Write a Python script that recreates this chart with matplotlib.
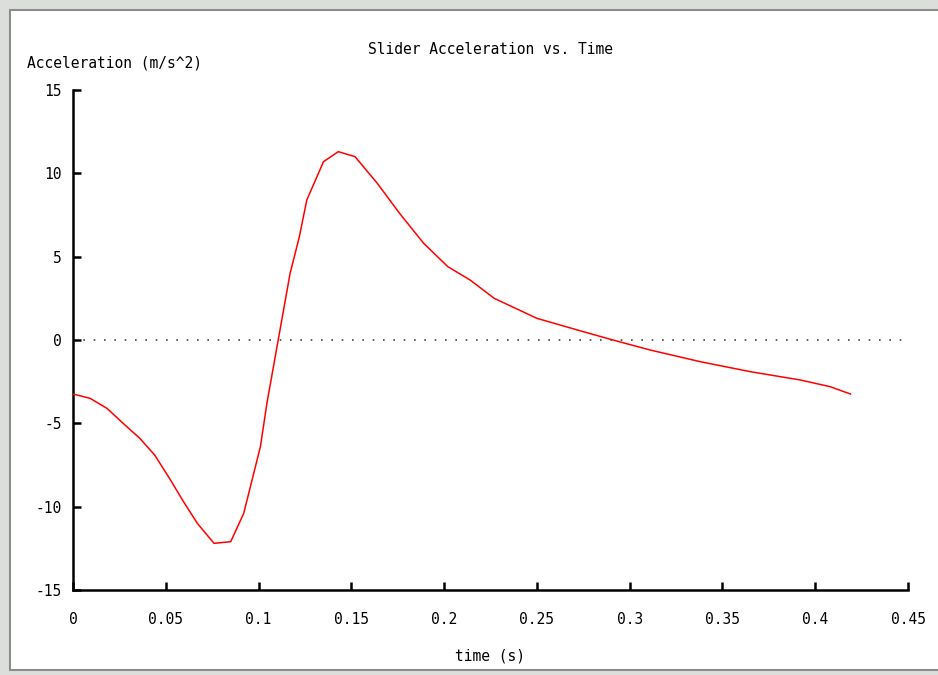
import matplotlib.pyplot as plt
from matplotlib.patches import Rectangle

# values
time_s = [0.0, 0.0092, 0.0183, 0.028, 0.036, 0.044, 0.052, 0.059, 0.067, 0.076,
          0.085, 0.092, 0.0965, 0.101, 0.1045, 0.117, 0.122, 0.126, 0.135,
          0.143, 0.152, 0.164, 0.176, 0.189, 0.202, 0.214, 0.227, 0.25, 0.275,
          0.291, 0.311, 0.338, 0.365, 0.392, 0.408, 0.419]
accel = [-3.24, -3.5, -4.1, -5.1, -5.9, -6.9, -8.3, -9.6, -11.0, -12.2,
         -12.1, -10.4, -8.4, -6.4, -3.8, 4.0, 6.2, 8.4, 10.7,
         11.3, 11.0, 9.4, 7.6, 5.8, 4.4, 3.6, 2.5, 1.3, 0.5,
         0.0, -0.6, -1.3, -1.9, -2.4, -2.8, -3.24]
x_ticks = [0, 0.05, 0.1, 0.15, 0.2, 0.25, 0.3, 0.35, 0.4, 0.45]
x_tick_labels = ["0", "0.05", "0.1", "0.15", "0.2", "0.25", "0.3", "0.35", "0.4", "0.45"]
y_ticks = [-15, -10, -5, 0, 5, 10, 15]

W, H = 938, 675
plt.rcParams["font.family"] = ["DejaVu Sans Mono"]
plt.rcParams["axes.unicode_minus"] = False

fig = plt.figure(figsize=(W / 100, H / 100), dpi=100)
fig.patch.set_facecolor("#dcdedc")

# white window panel with a grey frame
fig.patches.append(Rectangle((10 / W, 5 / H), 1.0, 1 - 15 / H, transform=fig.transFigure,
                             facecolor="white", edgecolor="#8c8c8c", linewidth=1.5,
                             zorder=-5))

ax = fig.add_axes([73 / W, 1 - 590 / H, (908 - 73) / W, (590 - 90) / H])
ax.set_zorder(5)
ax.set_facecolor("none")

ax.plot(time_s, accel, color="red", linewidth=1.1, zorder=3)
ax.axhline(0, color="#444444", linewidth=1.2, linestyle=(0, (1, 5.2)), xmax=0.997)

ax.set_xlim(0, 0.45)
ax.set_ylim(-15, 15)
ax.set_xticks(x_ticks)
ax.set_xticklabels(x_tick_labels)
ax.set_yticks(y_ticks)

for side in ["top", "right"]:
    ax.spines[side].set_visible(False)
for side in ["left", "bottom"]:
    ax.spines[side].set_linewidth(1.8)
    ax.spines[side].set_color("black")

ax.tick_params(axis="both", direction="in", length=5.5, width=1.8, labelsize=10.5,
               colors="black")
ax.tick_params(axis="x", pad=16)
ax.tick_params(axis="y", pad=8)

fig.text(490 / W, 1 - 50 / H, "Slider Acceleration vs. Time", ha="center", va="center",
         fontsize=10.5)
fig.text(27 / W, 1 - 63 / H, "Acceleration (m/s^2)", ha="left", va="center",
         fontsize=10.5)
fig.text(490 / W, 1 - 656 / H, "time (s)", ha="center", va="center", fontsize=10.5)

fig.savefig("out.png", dpi=100, facecolor=fig.get_facecolor())
